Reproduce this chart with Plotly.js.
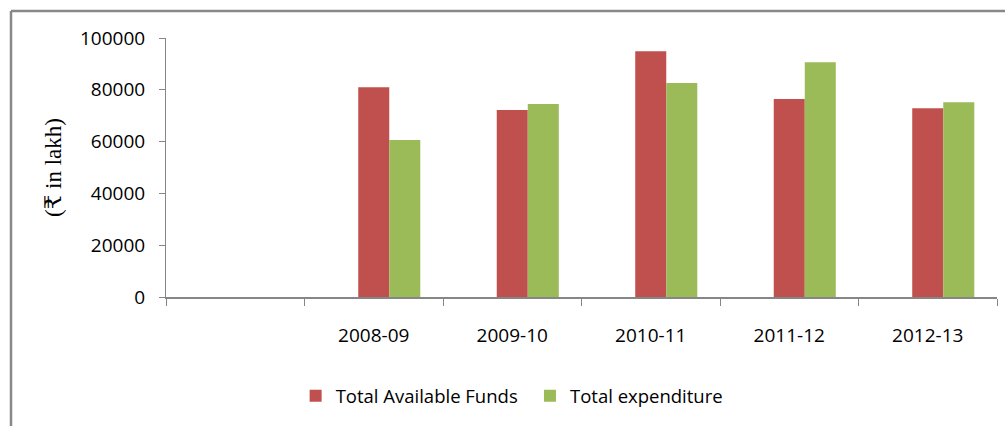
<!DOCTYPE html>
<html>
<head>
<meta charset="utf-8">
<script src="https://cdn.plot.ly/plotly-3.0.1.min.js"></script>
<style>html,body{margin:0;padding:0;background:#fff;}#chart{width:1005px;height:426px;}</style>
</head>
<body>
<div id="chart"></div>
<script>
var categories = [' ', '2008-09', '2009-10', '2010-11', '2011-12', '2012-13'];
var availableFunds = [null, 81000, 72200, 94900, 76400, 72900];
var expenditure = [null, 60600, 74500, 82600, 90600, 75200];
var seriesNames = ['Total Available Funds', 'Total expenditure'];
var yTicks = [0, 20000, 40000, 60000, 80000, 100000];

var barWidth = 0.224;
var traces = [
  {type: 'bar', name: seriesNames[0], x: categories, y: availableFunds,
   width: barWidth, offset: -0.112,
   marker: {color: '#C0504D'}, legend: 'legend', hoverinfo: 'x+y'},
  {type: 'bar', name: seriesNames[1], x: categories, y: expenditure,
   width: barWidth, offset: 0.112,
   marker: {color: '#9BBB59'}, legend: 'legend2', hoverinfo: 'x+y'}
];

var tickFont = {family: '"Open Sans", "Liberation Sans", sans-serif', size: 19, color: '#000'};
var legFont = {family: '"Open Sans", "Liberation Sans", sans-serif', size: 18.5, color: '#000'};

var layout = {
  width: 1005, height: 426,
  margin: {l: 166, r: 8, t: 38, b: 128.5},
  paper_bgcolor: '#fff', plot_bgcolor: '#fff',
  barmode: 'overlay',
  showlegend: true,
  xaxis: {
    type: 'category', categoryorder: 'array', categoryarray: categories,
    showgrid: false, showline: true, linecolor: '#868686', linewidth: 2,
    ticks: 'outside', tickson: 'boundaries', ticklen: 7, tickcolor: '#868686', tickwidth: 1,
    ticklabelstandoff: 20, tickfont: tickFont, fixedrange: true
  },
  yaxis: {
    range: [0, 100000], tickvals: yTicks, ticktext: yTicks.map(String),
    showgrid: false, zeroline: false, showline: true, linecolor: '#868686', linewidth: 1,
    ticks: 'outside', ticklen: 6, tickcolor: '#868686', tickwidth: 1,
    ticklabelstandoff: 10, tickfont: tickFont,
    title: {text: '(₹ in lakh)', standoff: 11,
            font: {family: '"Liberation Serif", "DejaVu Serif", serif', size: 23, color: '#000'}},
    fixedrange: true
  },
  legend: {orientation: 'h', x: 0.156, xanchor: 'left', y: -0.383, yanchor: 'middle',
           font: legFont, bgcolor: 'rgba(0,0,0,0)', borderwidth: 0},
  legend2: {orientation: 'h', x: 0.438, xanchor: 'left', y: -0.383, yanchor: 'middle',
            font: legFont, bgcolor: 'rgba(0,0,0,0)', borderwidth: 0},
  shapes: [
    {type: 'line', xref: 'paper', yref: 'paper',
     x0: (11 - 166) / 831, x1: (11 - 166) / 831, y0: (297.5 - 11) / 259.5, y1: (297.5 - 430) / 259.5,
     line: {color: '#888888', width: 2.5}},
    {type: 'line', xref: 'paper', yref: 'paper',
     x0: (11 - 166) / 831, x1: (1010 - 166) / 831, y0: (297.5 - 11) / 259.5, y1: (297.5 - 11) / 259.5,
     line: {color: '#888888', width: 2.5}}
  ]
};

Plotly.newPlot('chart', traces, layout, {displayModeBar: false, staticPlot: true});
</script>
</body>
</html>
